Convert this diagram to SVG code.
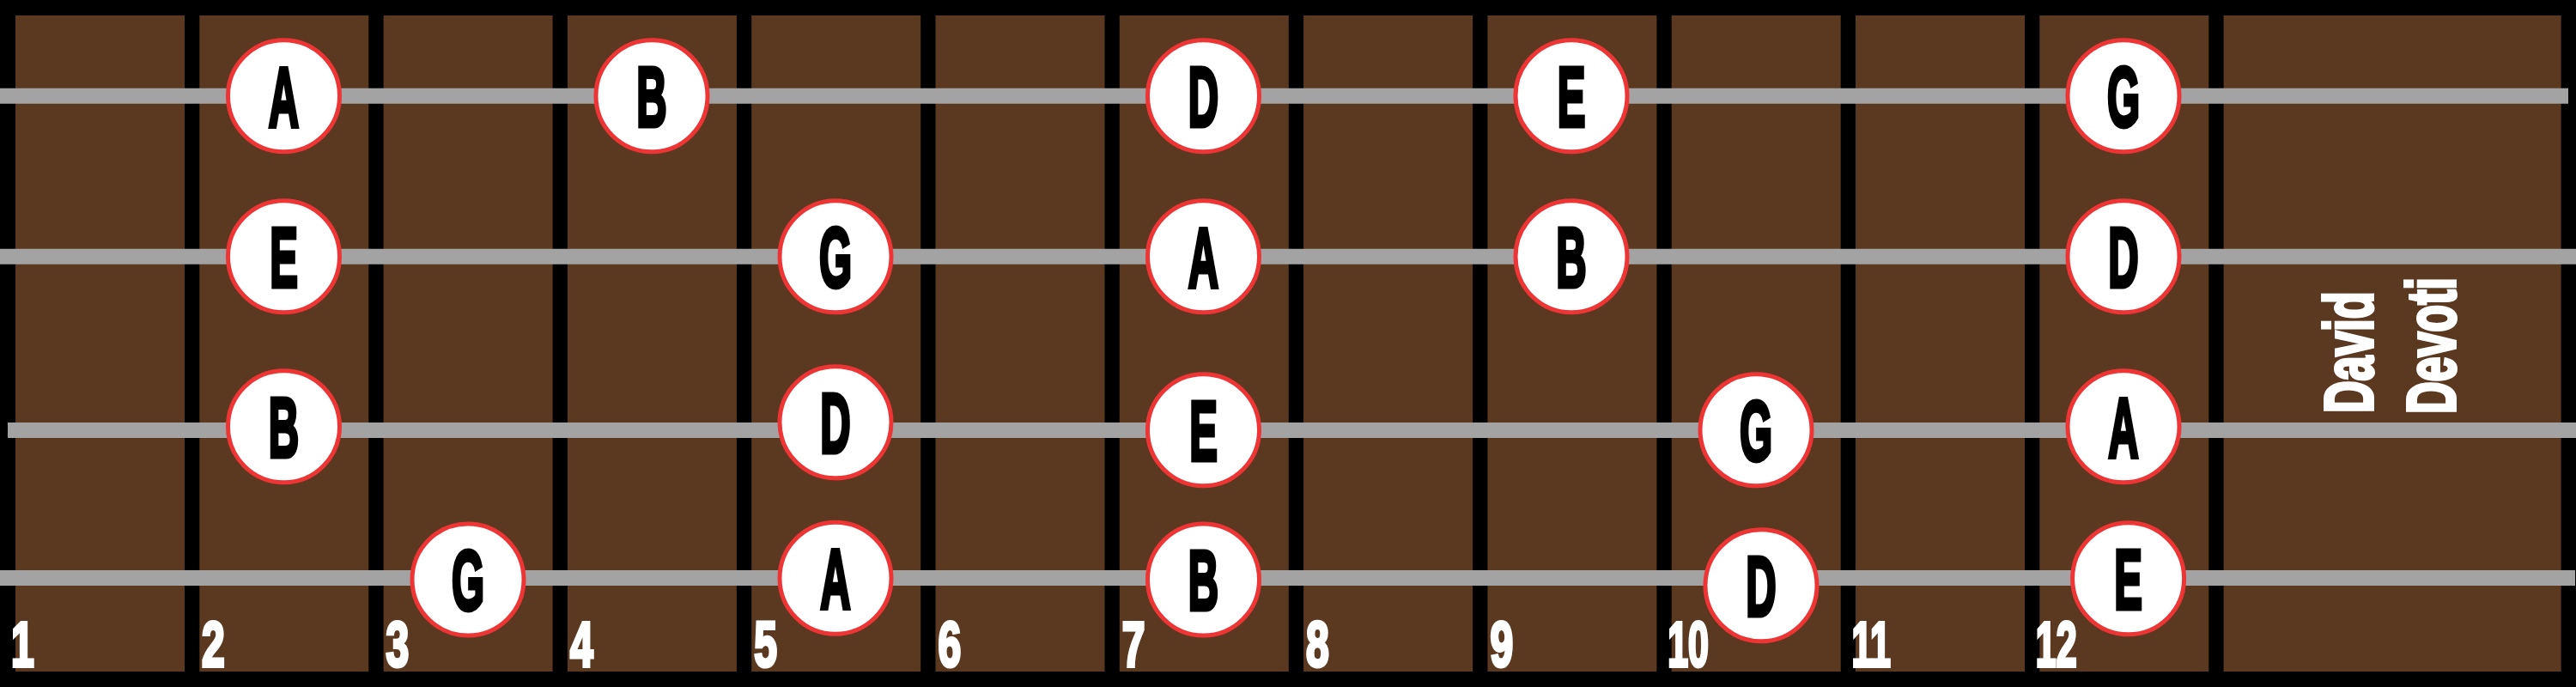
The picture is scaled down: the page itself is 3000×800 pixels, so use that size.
<svg xmlns="http://www.w3.org/2000/svg" width="3000" height="800" viewBox="0 0 3000 800">
  <style>
    .fret { fill: #5b3920; }
    .str { stroke: #a3a3a3; stroke-width: 18px; }
    .dot { fill: #ffffff; stroke: #ee3536; stroke-width: 5px; }
    .note { font-family: "Liberation Sans", Arial, sans-serif; font-weight: bold; font-size: 98px; fill: #000; stroke: #000; stroke-width: 5px; stroke-linejoin: miter; text-anchor: middle; }
    .num { font-family: "Liberation Sans", Arial, sans-serif; font-weight: bold; font-size: 74px; fill: #fff; stroke: #fff; stroke-width: 4px; }
    .sig { font-family: "Liberation Sans", Arial, sans-serif; font-weight: bold; font-size: 80px; fill: #fff; stroke: #fff; stroke-width: 4px; }
  </style>
  <rect x="0" y="0" width="3000" height="800" fill="#000"/>
  <g id="fretboard">
    <rect class="fret" x="18" y="18" width="197" height="764"/>
    <rect class="fret" x="232.3" y="18" width="197" height="764"/>
    <rect class="fret" x="446.6" y="18" width="197" height="764"/>
    <rect class="fret" x="660.9" y="18" width="197" height="764"/>
    <rect class="fret" x="875.2" y="18" width="197" height="764"/>
    <rect class="fret" x="1089.5" y="18" width="197" height="764"/>
    <rect class="fret" x="1303.8" y="18" width="197" height="764"/>
    <rect class="fret" x="1518.1" y="18" width="197" height="764"/>
    <rect class="fret" x="1732.4" y="18" width="197" height="764"/>
    <rect class="fret" x="1946.7" y="18" width="197" height="764"/>
    <rect class="fret" x="2161" y="18" width="197" height="764"/>
    <rect class="fret" x="2375.3" y="18" width="197" height="764"/>
    <rect class="fret" x="2589.6" y="18" width="393" height="764"/>
  </g>
  <g id="fret-numbers">
    <text class="num" transform="translate(13,776) scale(0.65,1)">1</text>
    <text class="num" transform="translate(235,776) scale(0.65,1)">2</text>
    <text class="num" transform="translate(449.6,776) scale(0.65,1)">3</text>
    <text class="num" transform="translate(663.9,776) scale(0.65,1)">4</text>
    <text class="num" transform="translate(878.2,776) scale(0.65,1)">5</text>
    <text class="num" transform="translate(1092.5,776) scale(0.65,1)">6</text>
    <text class="num" transform="translate(1306.8,776) scale(0.65,1)">7</text>
    <text class="num" transform="translate(1521.1,776) scale(0.65,1)">8</text>
    <text class="num" transform="translate(1735.4,776) scale(0.65,1)">9</text>
    <text class="num" transform="translate(1942.2,776) scale(0.58,1)">10</text>
    <text class="num" transform="translate(2156.5,776) scale(0.58,1)">11</text>
    <text class="num" transform="translate(2370.8,776) scale(0.58,1)">12</text>
  </g>
  <g id="strings">
    <line class="str" x1="0" y1="111.7" x2="2991" y2="111.7"/>
    <line class="str" x1="0" y1="298.8" x2="3000" y2="298.8"/>
    <line class="str" x1="9" y1="501" x2="3000" y2="501"/>
    <line class="str" x1="0" y1="673" x2="2999" y2="673"/>
  </g>
  <g id="signature">
    <text class="sig" transform="translate(2763,481) rotate(-90) scale(0.65,1)">David</text>
    <text class="sig" transform="translate(2859,482) rotate(-90) scale(0.65,1)">Devoti</text>
  </g>
  <g id="s1-A"><circle class="dot" cx="330.5" cy="111.7" r="65"/><text class="note" transform="translate(330.5,146.7) scale(0.5,1)">A</text></g>
  <g id="s1-B"><circle class="dot" cx="759" cy="111.7" r="65"/><text class="note" transform="translate(759,146.7) scale(0.5,1)">B</text></g>
  <g id="s1-D"><circle class="dot" cx="1401.5" cy="111.7" r="65"/><text class="note" transform="translate(1401.5,146.7) scale(0.5,1)">D</text></g>
  <g id="s1-E"><circle class="dot" cx="1830" cy="111.7" r="65"/><text class="note" transform="translate(1830,146.7) scale(0.5,1)">E</text></g>
  <g id="s1-G"><circle class="dot" cx="2473" cy="111.7" r="65"/><text class="note" transform="translate(2473,146.7) scale(0.5,1)">G</text></g>
  <g id="s2-E"><circle class="dot" cx="330.5" cy="298.8" r="65"/><text class="note" transform="translate(330.5,333.8) scale(0.5,1)">E</text></g>
  <g id="s2-G"><circle class="dot" cx="973" cy="298.8" r="65"/><text class="note" transform="translate(973,333.8) scale(0.5,1)">G</text></g>
  <g id="s2-A"><circle class="dot" cx="1401.5" cy="298.8" r="65"/><text class="note" transform="translate(1401.5,333.8) scale(0.5,1)">A</text></g>
  <g id="s2-B"><circle class="dot" cx="1830" cy="298.8" r="65"/><text class="note" transform="translate(1830,333.8) scale(0.5,1)">B</text></g>
  <g id="s2-D"><circle class="dot" cx="2473" cy="298.8" r="65"/><text class="note" transform="translate(2473,333.8) scale(0.5,1)">D</text></g>
  <g id="s3-B"><circle class="dot" cx="330.5" cy="496.7" r="65"/><text class="note" transform="translate(330.5,531.7) scale(0.5,1)">B</text></g>
  <g id="s3-D"><circle class="dot" cx="973" cy="491.8" r="65"/><text class="note" transform="translate(973,526.8) scale(0.5,1)">D</text></g>
  <g id="s3-E"><circle class="dot" cx="1401.5" cy="500.8" r="65"/><text class="note" transform="translate(1401.5,535.8) scale(0.5,1)">E</text></g>
  <g id="s3-G"><circle class="dot" cx="2045" cy="500.8" r="65"/><text class="note" transform="translate(2045,535.8) scale(0.5,1)">G</text></g>
  <g id="s3-A"><circle class="dot" cx="2473" cy="496.7" r="65"/><text class="note" transform="translate(2473,531.7) scale(0.5,1)">A</text></g>
  <g id="s4-G"><circle class="dot" cx="545" cy="675" r="65"/><text class="note" transform="translate(545,710) scale(0.5,1)">G</text></g>
  <g id="s4-A"><circle class="dot" cx="973" cy="673.2" r="65"/><text class="note" transform="translate(973,708.2) scale(0.5,1)">A</text></g>
  <g id="s4-B"><circle class="dot" cx="1401.5" cy="675" r="65"/><text class="note" transform="translate(1401.5,710) scale(0.5,1)">B</text></g>
  <g id="s4-D"><circle class="dot" cx="2051" cy="681.7" r="65"/><text class="note" transform="translate(2051,716.7) scale(0.5,1)">D</text></g>
  <g id="s4-E"><circle class="dot" cx="2478.6" cy="673.7" r="65"/><text class="note" transform="translate(2478.6,708.7) scale(0.5,1)">E</text></g>
</svg>
